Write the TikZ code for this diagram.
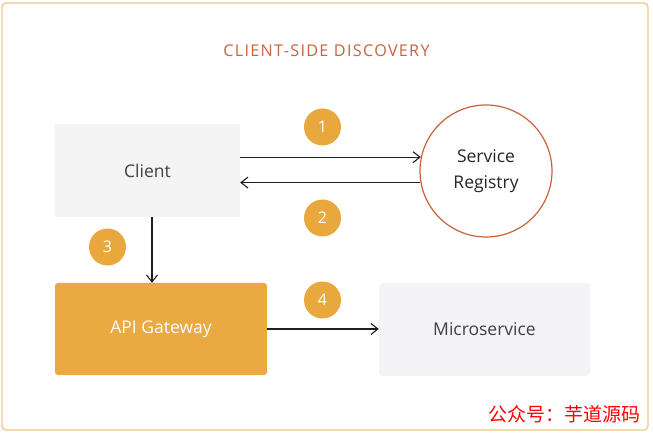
\documentclass[tikz,border=0pt]{standalone}
\usepackage{fontspec}
\setmainfont{Open Sans}
\newfontfamily\titlefont[LetterSpace=8]{Open Sans}
\newfontfamily\cjkfont{Noto Sans CJK SC}
\usetikzlibrary{arrows.meta}
\definecolor{badgeorange}{HTML}{E8A83E}
\definecolor{apiorange}{HTML}{EAA941}
\definecolor{rust}{HTML}{C8633D}
\definecolor{framecol}{HTML}{F0C77E}
\definecolor{clientgray}{HTML}{F4F4F4}
\definecolor{microgray}{HTML}{F4F4F7}
\definecolor{textgray}{HTML}{404040}
\definecolor{linecol}{HTML}{1E1E1E}
\tikzset{
  boxnode/.style={inner sep=0pt, font=\fontsize{17.5}{20}\selectfont, text=textgray},
  badge/.style={circle, fill=badgeorange, minimum size=37pt, inner sep=0pt, text=white, font=\fontsize{16}{18}\selectfont},
  arr/.style={draw=linecol, line width=1.1pt, -{Straight Barb[length=7pt,width=11pt,line width=1.1pt]}}
}
\begin{document}
\begin{tikzpicture}[x=1pt,y=-1pt]
\useasboundingbox (0,0) rectangle (653,435);
\fill[white] (0,0) rectangle (653,435);
\draw[framecol, line width=1.2pt, rounded corners=4pt] (2,3) rectangle (648,430);

\node[text=rust, font=\titlefont\fontsize{16.2}{18}\selectfont] (title) at (326.5,51) {CLIENT-SIDE DISCOVERY};

\node[boxnode, fill=clientgray, minimum width=185pt, minimum height=93pt] (client) at (147.5,170.5) {Client};
\node[boxnode, circle, draw=rust, line width=1.2pt, minimum size=132pt, align=center, text=black!85, font=\fontsize{17.5}{26}\selectfont] (registry) at (486,171) {Service\\Registry};
\node[boxnode, fill=apiorange, rounded corners=3pt, minimum width=212pt, minimum height=92pt, text=white] (api) at (161,329) {API Gateway};
\node[boxnode, fill=microgray, rounded corners=4pt, minimum width=211pt, minimum height=93pt] (micro) at (484.5,329.5) {Microservice};

\node[badge] (b1) at (322.5,127) {1};
\node[badge] (b2) at (322.5,218) {2};
\node[badge] (b3) at (107.5,247) {3};
\node[badge] (b4) at (322.5,300) {4};

\coordinate (vx) at (152,0);
\draw[arr] (client.east |- registry.168) -- (registry.168);
\draw[arr] (registry.190.5) -- (client.east |- registry.190.5);
\draw[arr] (client.south -| vx) -- (api.north -| vx);
\draw[arr] (api.east) -- (api.east -| micro.west);

\node[anchor=east, text=red, inner sep=0pt, font=\cjkfont\fontsize{19}{21}\selectfont] (wm) at (641,414) {公众号：芋道源码};
\end{tikzpicture}
\end{document}
